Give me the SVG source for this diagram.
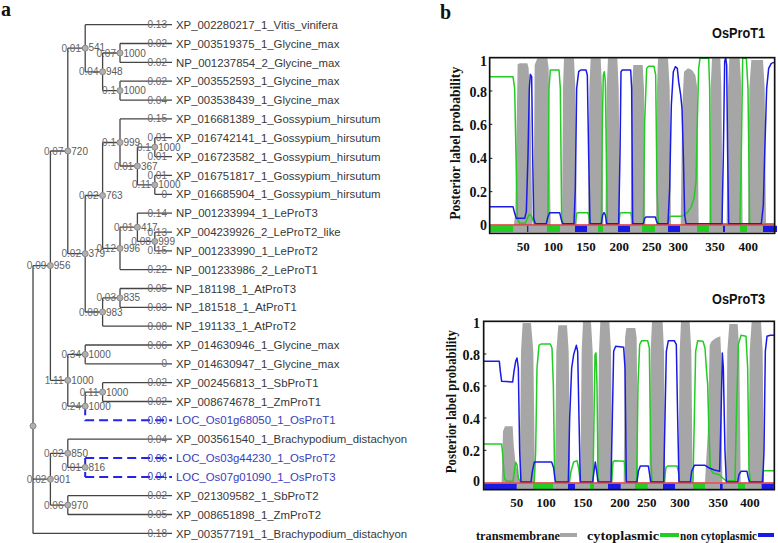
<svg xmlns="http://www.w3.org/2000/svg" width="778" height="543" viewBox="0 0 778 543">
<style>
.lf{font-family:"Liberation Sans",Arial,sans-serif;font-size:11.4px;fill:#383838}
.lfb{font-family:"Liberation Sans",Arial,sans-serif;font-size:11.4px;fill:#3b3bbd}
.bl{font-family:"Liberation Sans",Arial,sans-serif;font-size:10px;fill:#6a6a6a;text-anchor:end}
.blb{font-family:"Liberation Sans",Arial,sans-serif;font-size:10px;fill:#3b3bbd;text-anchor:end}
.bs{font-family:"Liberation Sans",Arial,sans-serif;font-size:10px;fill:#5a5a5a}
.br{stroke:#454545;stroke-width:1.3;fill:none}
.ds{stroke:#2424e8;stroke-width:2;fill:none;stroke-dasharray:9 5}
.nd{fill:#b0b0b0;stroke:#8a8a8a;stroke-width:1}
.pl{font-family:"Liberation Serif","Times New Roman",serif;font-weight:bold;fill:#111}
.ttl{font-family:"Liberation Sans",Arial,sans-serif;font-weight:bold;font-size:14px;fill:#111;text-anchor:end}
.gy{fill:#a6a6a6}
.gr{stroke:#22cc22;stroke-width:4.5;fill:none;stroke-linejoin:round}
.bu{stroke:#1a1ae6;stroke-width:4.5;fill:none;stroke-linejoin:round}
.rd{stroke:#e03030;stroke-width:4}
.fr{fill:none;stroke:#111;stroke-width:5}
.tk{stroke:#111;stroke-width:3}
</style>

<text class="pl" x="1" y="16" font-size="20">a</text>
<text class="pl" x="440" y="19" font-size="20">b</text>

<g id="connectors">
<path class="br" d="M85.2 24.7H172M120 43.5H172M120 62.4H172M120 81.2H172M120 100.1H172M120 118.9H172M154.8 137.7H172M154.8 156.6H172M154.8 175.4H172M154.8 194.3H172M137.4 213.1H172M154.8 232.1H172M154.8 250.8H172M120 269.6H172M120 288.5H172M120 307.3H172M102.6 326.1H172M85.2 345H172M85.2 363.8H172M102.6 382.7H172M102.6 401.5H172M67.8 439.2H172M67.8 495.7H172M67.8 514.5H172M33 533.4H172"/>
<path class="br" d="M102.6 53H120M102.6 90.6H120M85.2 71.8H102.6M67.8 48.2H85.2M137.4 147.2H154.8M137.4 184.9H154.8M120 166H137.4M102.6 142.5H120M137.4 241.4H154.8M120 227.2H137.4M102.6 248.4H120M85.2 195.5H102.6M102.6 297.9H120M85.2 312H102.6M67.8 253.7H85.2M50.4 151H67.8M67.8 354.4H85.2M85.2 392.1H102.6M67.8 406.2H85.2M50.4 380.3H67.8M33 265.6H50.4M67.8 467.4H85.2M50.4 453.3H67.8M50.4 505.1H67.8M33 479.2H50.4"/>
<path class="br" d="M120 43.5V62.4M120 81.2V100.1M102.6 53V90.6M85.2 24.7V71.8M154.8 137.7V156.6M154.8 175.4V194.3M137.4 147.2V184.9M120 118.9V166M154.8 232.1V250.8M137.4 213.1V241.4M120 227.2V269.6M102.6 142.5V248.4M120 288.5V307.3M102.6 297.9V326.1M85.2 195.5V312M67.8 48.2V253.7M85.2 345V363.8M102.6 382.7V401.5M85.2 392.1V406.2M67.8 354.4V406.2M50.4 151V380.3M67.8 439.2V467.4M67.8 495.7V514.5M50.4 453.3V505.1M33 265.6V533.4"/>
<path class="ds" d="M85.2 406.2V420.3H172M85.2 458V476.9M85.2 458H172M85.2 476.9H172"/>
</g>

<g id="leaves">
<g id="leaf1"><text class="bl" x="167" y="28.2">0.13</text><text class="lf" x="176" y="28.8">XP_002280217_1_Vitis_vinifera</text></g>
<g id="leaf2"><text class="bl" x="167" y="47">0.02</text><text class="lf" x="176" y="47.6">XP_003519375_1_Glycine_max</text></g>
<g id="leaf3"><text class="bl" x="167" y="65.9">0.02</text><text class="lf" x="176" y="66.5">NP_001237854_2_Glycine_max</text></g>
<g id="leaf4"><text class="bl" x="167" y="84.7">0.02</text><text class="lf" x="176" y="85.3">XP_003552593_1_Glycine_max</text></g>
<g id="leaf5"><text class="bl" x="167" y="103.6">0.04</text><text class="lf" x="176" y="104.2">XP_003538439_1_Glycine_max</text></g>
<g id="leaf6"><text class="bl" x="167" y="122.4">0.15</text><text class="lf" x="176" y="123">XP_016681389_1_Gossypium_hirsutum</text></g>
<g id="leaf7"><text class="bl" x="167" y="141.2">0.01</text><text class="lf" x="176" y="141.8">XP_016742141_1_Gossypium_hirsutum</text></g>
<g id="leaf8"><text class="bl" x="167" y="160.1">0.01</text><text class="lf" x="176" y="160.7">XP_016723582_1_Gossypium_hirsutum</text></g>
<g id="leaf9"><text class="bl" x="167" y="178.9">0.01</text><text class="lf" x="176" y="179.5">XP_016751817_1_Gossypium_hirsutum</text></g>
<g id="leaf10"><text class="bl" x="167" y="197.8">0</text><text class="lf" x="176" y="198.4">XP_016685904_1_Gossypium_hirsutum</text></g>
<g id="leaf11"><text class="bl" x="167" y="216.6">0.14</text><text class="lf" x="176" y="217.2">NP_001233994_1_LeProT3</text></g>
<g id="leaf12"><text class="bl" x="167" y="235.6">0.13</text><text class="lf" x="176" y="236.2">XP_004239926_2_LeProT2_like</text></g>
<g id="leaf13"><text class="bl" x="167" y="254.3">0.15</text><text class="lf" x="176" y="254.9">NP_001233990_1_LeProT2</text></g>
<g id="leaf14"><text class="bl" x="167" y="273.1">0.22</text><text class="lf" x="176" y="273.7">NP_001233986_2_LeProT1</text></g>
<g id="leaf15"><text class="bl" x="167" y="292">0.05</text><text class="lf" x="176" y="292.6">NP_181198_1_AtProT3</text></g>
<g id="leaf16"><text class="bl" x="167" y="310.8">0.03</text><text class="lf" x="176" y="311.4">NP_181518_1_AtProT1</text></g>
<g id="leaf17"><text class="bl" x="167" y="329.6">0.08</text><text class="lf" x="176" y="330.2">NP_191133_1_AtProT2</text></g>
<g id="leaf18"><text class="bl" x="167" y="348.5">0.06</text><text class="lf" x="176" y="349.1">XP_014630946_1_Glycine_max</text></g>
<g id="leaf19"><text class="bl" x="167" y="367.3">0</text><text class="lf" x="176" y="367.9">XP_014630947_1_Glycine_max</text></g>
<g id="leaf20"><text class="bl" x="167" y="386.2">0.02</text><text class="lf" x="176" y="386.8">XP_002456813_1_SbProT1</text></g>
<g id="leaf21"><text class="bl" x="167" y="405">0.02</text><text class="lf" x="176" y="405.6">XP_008674678_1_ZmProT1</text></g>
<g id="leaf22"><text class="blb" x="167" y="423.8">0.00</text><text class="lfb" x="176" y="424.4">LOC_Os01g68050_1_OsProT1</text></g>
<g id="leaf23"><text class="bl" x="167" y="442.7">0.04</text><text class="lf" x="176" y="443.3">XP_003561540_1_Brachypodium_distachyon</text></g>
<g id="leaf24"><text class="blb" x="167" y="461.5">0.06</text><text class="lfb" x="176" y="462.1">LOC_Os03g44230_1_OsProT2</text></g>
<g id="leaf25"><text class="blb" x="167" y="480.4">0.04</text><text class="lfb" x="176" y="481">LOC_Os07g01090_1_OsProT3</text></g>
<g id="leaf26"><text class="bl" x="167" y="499.2">0.02</text><text class="lf" x="176" y="499.8">XP_021309582_1_SbProT2</text></g>
<g id="leaf27"><text class="bl" x="167" y="518">0.05</text><text class="lf" x="176" y="518.6">XP_008651898_1_ZmProT2</text></g>
<g id="leaf28"><text class="bl" x="167" y="536.9">0.18</text><text class="lf" x="176" y="537.5">XP_003577191_1_Brachypodium_distachyon</text></g>
</g>

<g id="inner-nodes">
<g id="n541"><circle class="nd" cx="85.2" cy="48.2" r="3"/><text class="bl" x="81" y="51.7">0.01</text><text class="bs" x="88.5" y="50.5">541</text></g>
<g id="n1000a"><circle class="nd" cx="120" cy="53" r="3"/><text class="bl" x="116" y="56.5">0.07</text><text class="bs" x="123.5" y="56.5">1000</text></g>
<g id="n948"><circle class="nd" cx="102.6" cy="71.8" r="3"/><text class="bl" x="98.5" y="75.3">0.04</text><text class="bs" x="106" y="75.3">948</text></g>
<g id="n1000b"><circle class="nd" cx="120" cy="90.6" r="3"/><text class="bl" x="116" y="94.1">0.1</text><text class="bs" x="123.5" y="94.1">1000</text></g>
<g id="n720"><circle class="nd" cx="67.8" cy="151" r="3"/><text class="bl" x="63.5" y="154.5">0.07</text><text class="bs" x="71.3" y="154.5">720</text></g>
<g id="n999a"><circle class="nd" cx="120" cy="142.5" r="3"/><text class="bl" x="116" y="146">0.1</text><text class="bs" x="123.5" y="146">999</text></g>
<g id="n1000c"><circle class="nd" cx="154.8" cy="147.2" r="3"/><text class="bl" x="150.8" y="150.7">0.1</text><text class="bs" x="158.3" y="150.7">1000</text></g>
<g id="n367"><circle class="nd" cx="137.4" cy="166" r="3"/><text class="bl" x="133.4" y="169.5">0.01</text><text class="bs" x="140.9" y="169.5">367</text></g>
<g id="n1000d"><circle class="nd" cx="154.8" cy="184.9" r="3"/><text class="bl" x="150.8" y="188.4">0.11</text><text class="bs" x="158.3" y="188.4">1000</text></g>
<g id="n763"><circle class="nd" cx="102.6" cy="195.5" r="3"/><text class="bl" x="98.5" y="199">0.02</text><text class="bs" x="106" y="199">763</text></g>
<g id="n417"><circle class="nd" cx="137.4" cy="227.2" r="3"/><text class="bl" x="133.4" y="230.7">0.01</text><text class="bs" x="140.9" y="230.7">417</text></g>
<g id="n999b"><circle class="nd" cx="154.8" cy="241.4" r="3"/><text class="bl" x="150.8" y="244.9">0.08</text><text class="bs" x="158.3" y="244.9">999</text></g>
<g id="n996"><circle class="nd" cx="120" cy="248.4" r="3"/><text class="bl" x="116" y="251.9">0.12</text><text class="bs" x="123.5" y="251.9">996</text></g>
<g id="n379"><circle class="nd" cx="85.2" cy="253.7" r="3"/><text class="bl" x="81" y="257.2">0.02</text><text class="bs" x="88.5" y="257.2">379</text></g>
<g id="n956"><circle class="nd" cx="50.4" cy="265.6" r="3"/><text class="bl" x="46.3" y="269.1">0.09</text><text class="bs" x="53.8" y="269.1">956</text></g>
<g id="n835"><circle class="nd" cx="120" cy="297.9" r="3"/><text class="bl" x="116" y="301.4">0.03</text><text class="bs" x="123.5" y="301.4">835</text></g>
<g id="n983"><circle class="nd" cx="102.6" cy="312" r="3"/><text class="bl" x="98.5" y="315.5">0.08</text><text class="bs" x="106" y="315.5">983</text></g>
<g id="n1000e"><circle class="nd" cx="85.2" cy="354.4" r="3"/><text class="bl" x="81" y="357.9">0.34</text><text class="bs" x="88.5" y="357.9">1000</text></g>
<g id="n1000f"><circle class="nd" cx="67.8" cy="380.3" r="3"/><text class="bl" x="63.5" y="383.8">1.11</text><text class="bs" x="71.3" y="383.8">1000</text></g>
<g id="n1000g"><circle class="nd" cx="102.6" cy="392.1" r="3"/><text class="bl" x="98.5" y="395.6">0.11</text><text class="bs" x="106" y="395.6">1000</text></g>
<g id="n1000h"><circle class="nd" cx="85.2" cy="406.2" r="3"/><text class="bl" x="81" y="409.7">0.24</text><text class="bs" x="88.5" y="409.7">1000</text></g>
<g id="root"><circle class="nd" cx="33" cy="426" r="3"/></g>
<g id="n850"><circle class="nd" cx="67.8" cy="453.3" r="3"/><text class="bl" x="63.5" y="456.8">0.02</text><text class="bs" x="71.3" y="456.8">850</text></g>
<g id="n816"><circle class="nd" cx="85.2" cy="467.4" r="3"/><text class="bl" x="81" y="470.9">0.01</text><text class="bs" x="88.5" y="470.9">816</text></g>
<g id="n901"><circle class="nd" cx="50.4" cy="479.2" r="3"/><text class="bl" x="46.3" y="482.7">0.02</text><text class="bs" x="53.8" y="482.7">901</text></g>
<g id="n970"><circle class="nd" cx="67.8" cy="505.1" r="3"/><text class="bl" x="63.5" y="508.6">0.06</text><text class="bs" x="71.3" y="508.6">970</text></g>
</g>

<!-- Plot OsProT1 -->
<text class="ttl" x="765" y="37.5" textLength="53" lengthAdjust="spacingAndGlyphs">OsProT1</text>
<g transform="translate(488 55) scale(0.33333)">
<path class="gy" d="M78,510L82,470L86,200L89,28L95,25L118,25L122,40L128,200L133,510Z M135,510L138,300L140,30L148,10L178,10L182,40L185,300L188,510Z M222,510L225,100L228,10L258,10L262,100L266,510Z M300,510L304,100L308,10L338,10L342,100L346,510Z M352,510L356,100L360,10L388,10L392,100L396,510Z M428,510L432,100L436,30L464,30L468,100L472,510Z M504,510L507,100L510,10L540,10L545,100L549,510Z M578,510L583,150L588,50L600,40L612,45L622,60L628,100L632,510Z M664,510L668,100L672,10L697,10L700,100L704,510Z M716,510L720,100L724,10L755,10L760,100L764,510Z M780,510L784,100L790,15L825,15L830,100L834,510Z"/>
<rect x="5" y="512" width="855" height="19" fill="#a6a6a6"/>
<path fill="#22cc22" d="M6,512h69v19h-69zM177,512h39v19h-39zM330,512h15v19h-15zM462,512h39v19h-39zM627,512h36v19h-36zM756,512h21v19h-21z"/>
<path fill="#1a1ae6" d="M117,512h4v19h-4zM261,512h36v19h-36zM390,512h36v19h-36zM540,512h36v19h-36zM705,512h6v19h-6zM825,512h42v19h-42z"/>
<path class="gr" d="M5,65L75,65L80,100L84,300L88,490L95,505L112,505L118,490L124,478L130,482L136,500L142,506L175,506L180,480L183,100L187,45L213,45L217,100L221,490L226,506L262,506L266,475L270,473L300,473L304,490L308,506L340,506L343,200L346,60L349,50L352,80L355,300L358,506L392,506L396,475L400,473L428,473L432,490L436,506L466,506L470,200L476,40L482,34L498,34L503,60L507,400L511,506L540,506L545,486L550,484L580,484L590,480L600,470L610,455L618,430L624,380L628,200L632,40L636,10L662,10L665,100L668,506L756,506L760,300L764,10L775,10L780,100L785,506L860,506"/>
<path class="bu" d="M5,455L75,455L80,475L85,490L110,490L115,470L120,300L124,100L127,58L131,65L134,300L137,490L142,506L175,506L180,485L185,473L215,473L219,490L223,506L258,506L262,400L266,100L272,50L278,45L294,45L298,60L302,300L306,506L340,506L344,480L348,473L352,480L356,506L392,506L396,300L399,50L403,45L428,45L431,100L434,506L466,506L470,490L474,486L502,486L506,500L510,506L540,506L545,400L550,150L556,50L562,35L568,40L572,80L578,120L582,160L586,300L590,480L594,506L702,506L706,300L710,20L713,8L716,30L719,300L722,506L820,506L826,450L830,300L836,100L842,40L850,25L858,22"/>
<line class="rd" x1="5" y1="510" x2="860" y2="510"/>
<path class="tk" d="M5,108h8M5,208h8M5,310h8M5,410h8"/>
<rect class="fr" x="5" y="8" width="855" height="527"/>
</g>
<g class="pl" font-size="14" text-anchor="end">
<text x="487" y="65.6">1</text><text x="487" y="96.9">0.8</text><text x="487" y="129.6">0.6</text><text x="487" y="162.9">0.4</text><text x="487" y="196.9">0.2</text><text x="487" y="230.3">0</text>
</g>
<g class="pl" font-size="13" text-anchor="middle">
<text x="523.3" y="251">50</text><text x="553.3" y="251">100</text><text x="586" y="251">150</text><text x="619.3" y="251">200</text><text x="651.7" y="251">250</text><text x="678.3" y="251">300</text><text x="715" y="251">350</text><text x="748.3" y="251">400</text>
</g>
<text class="pl" font-size="14" text-anchor="middle" transform="translate(459.5 143.3) rotate(-90)" textLength="153" lengthAdjust="spacingAndGlyphs">Posterior label probability</text>

<!-- Plot OsProT3 -->
<text class="ttl" x="765" y="304" textLength="53" lengthAdjust="spacingAndGlyphs">OsProT3</text>
<g transform="translate(481 318) scale(0.33333)">
<path class="gy" d="M62,493L66,340L72,325L95,325L98,380L104,440L112,470L116,493Z M116,493L120,100L125,15L150,15L157,100L162,493Z M222,493L226,100L232,22L258,22L263,100L268,493Z M298,493L302,100L306,12L330,12L335,100L339,493Z M350,493L354,100L358,12L385,12L390,100L394,493Z M428,493L432,60L436,30L463,30L467,60L471,493Z M505,493L509,100L513,12L545,12L549,100L553,493Z M592,493L596,100L600,12L626,12L631,100L635,493Z M672,493L680,350L686,80L692,70L705,60L718,55L720,100L724,493Z M735,493L739,100L745,18L770,18L775,100L779,493Z M802,493L806,100L812,12L840,12L845,100L849,493Z"/>
<rect x="8" y="497" width="872" height="16" fill="#a6a6a6"/>
<path fill="#22cc22" d="M156,497h60v16h-60zM327,497h12v16h-12zM462,497h38v16h-38zM636,497h36v16h-36zM771,497h21v16h-21z"/>
<path fill="#1a1ae6" d="M10,497h97v16h-97zM261,497h21v16h-21zM381,497h38v16h-38zM546,497h36v16h-36zM717,497h8v16h-8zM842,497h36v16h-36z"/>
<path class="gr" d="M8,378L62,378L66,420L70,480L76,490L96,490L100,460L104,433L108,440L112,480L118,492L160,492L164,400L168,150L174,82L180,78L208,78L213,90L217,200L221,480L226,492L265,492L270,460L278,432L288,428L293,450L298,492L336,492L339,300L342,110L345,105L348,200L351,480L355,492L392,492L396,432L400,428L430,430L434,480L438,492L467,492L471,200L476,80L482,68L500,68L505,90L509,400L513,492L550,492L555,448L560,444L588,444L592,460L596,492L636,492L640,300L644,100L650,68L666,70L672,90L676,150L680,200L684,350L688,450L695,465L715,470L725,480L735,488L762,488L766,300L772,80L780,52L795,55L800,150L804,450L808,492L842,492L846,460L850,458L880,458"/>
<path class="bu" d="M8,130L55,130L58,160L62,190L95,192L99,160L104,130L108,120L112,150L116,400L120,492L150,492L154,460L160,432L212,432L218,450L223,492L262,492L266,300L272,150L278,110L286,82L290,100L294,300L298,492L335,492L339,460L343,432L347,460L351,492L390,492L394,300L398,100L404,85L428,88L432,150L436,492L468,492L472,460L478,444L502,444L506,470L510,492L548,492L552,300L556,100L562,68L580,68L586,80L590,300L594,492L628,492L632,460L640,442L672,442L685,450L700,456L716,460L720,300L724,105L727,150L732,400L736,492L770,492L774,470L780,460L798,460L802,480L806,492L845,492L849,400L853,100L858,55L868,52L880,52"/>
<line class="rd" x1="8" y1="495" x2="880" y2="495"/>
<path class="tk" d="M8,108h8M8,204h8M8,300h8M8,397h8"/>
<rect class="fr" x="8" y="10" width="872" height="505"/>
</g>
<g class="pl" font-size="14" text-anchor="end">
<text x="480" y="327.9">1</text><text x="480" y="359.6">0.8</text><text x="480" y="391.9">0.6</text><text x="480" y="423.6">0.4</text><text x="480" y="456.3">0.2</text><text x="480" y="486.3">0</text>
</g>
<g class="pl" font-size="13" text-anchor="middle">
<text x="516.7" y="507">50</text><text x="546" y="507">100</text><text x="582.7" y="507">150</text><text x="620" y="507">200</text><text x="646.7" y="507">250</text><text x="680" y="507">300</text><text x="718.3" y="507">350</text><text x="750" y="507">400</text>
</g>
<text class="pl" font-size="14" text-anchor="middle" transform="translate(456 401.7) rotate(-90)" textLength="143" lengthAdjust="spacingAndGlyphs">Posterior label probability</text>

<!-- Legend -->
<g id="legend">
<text class="pl" font-size="12.5" x="476" y="539.5" textLength="84" lengthAdjust="spacingAndGlyphs">transmembrane</text>
<line x1="560" y1="535" x2="577" y2="535" stroke="#a6a6a6" stroke-width="4"/>
<text class="pl" font-size="12.5" x="587" y="539.5" textLength="72" lengthAdjust="spacingAndGlyphs">cytoplasmic</text>
<line x1="660" y1="535" x2="679" y2="535" stroke="#22cc22" stroke-width="4"/>
<text class="pl" font-size="12.5" x="680" y="539.5" textLength="77" lengthAdjust="spacingAndGlyphs">non cytoplasmic</text>
<line x1="758" y1="535" x2="774" y2="535" stroke="#1a1ae6" stroke-width="4"/>
</g>
</svg>
